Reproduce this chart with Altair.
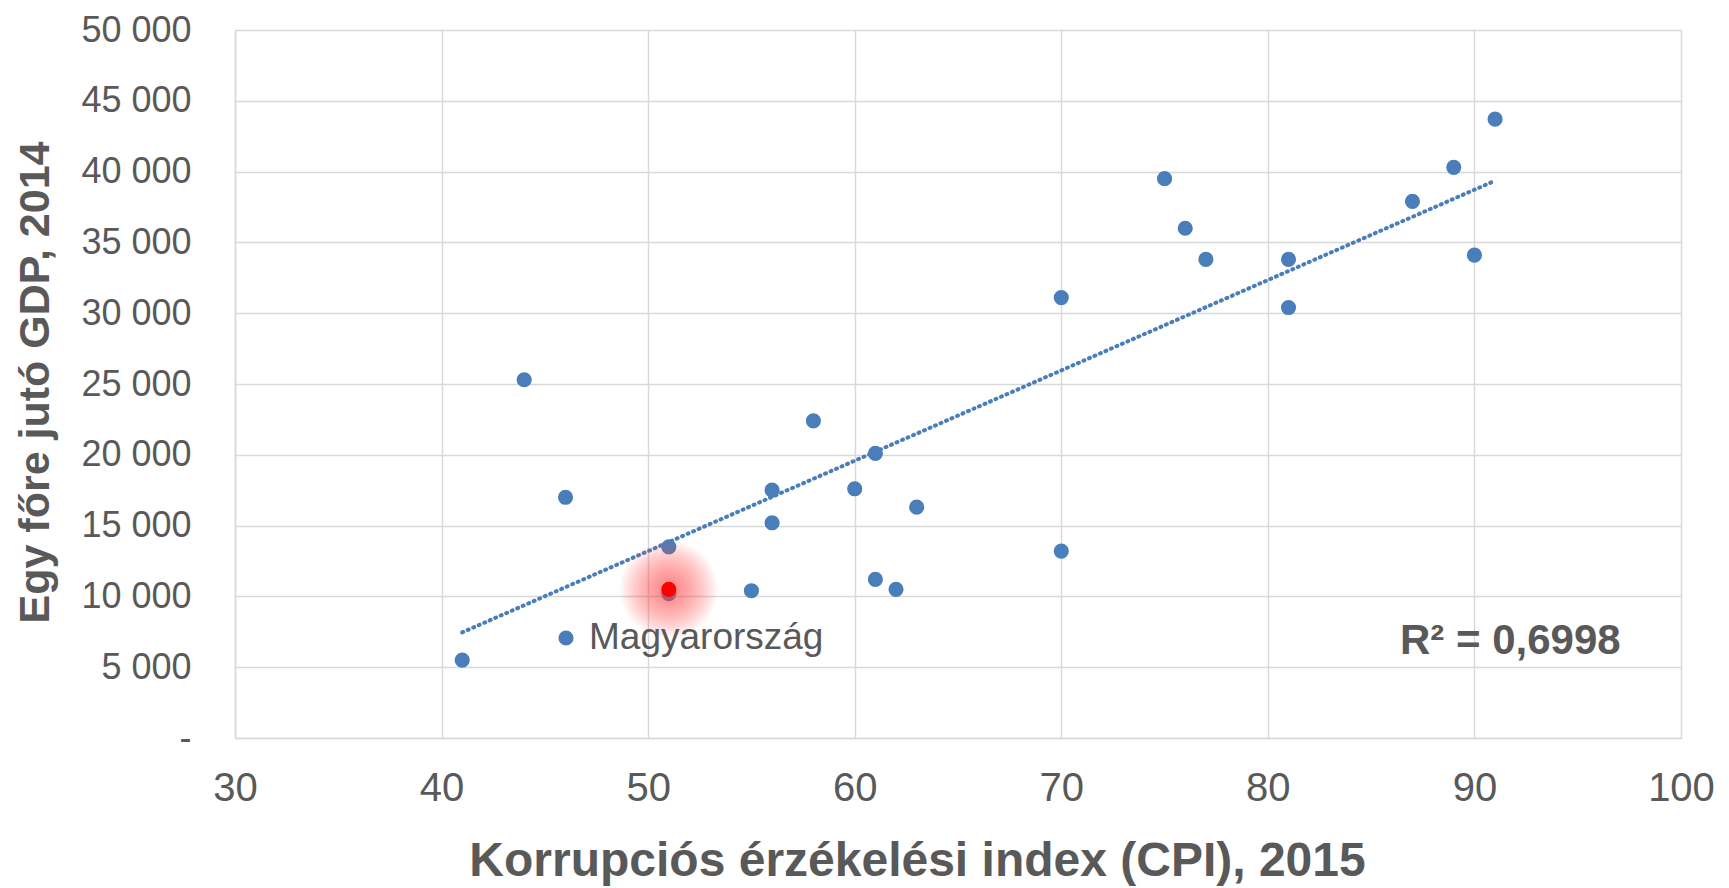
import altair as alt
import pandas as pd

# Data
cpi = [41, 44, 46, 51, 51, 55, 56, 56, 58, 60, 61, 61, 62, 63, 70, 70, 75, 76, 77, 81, 81, 87, 89, 90, 91]
gdp = [5500, 25300, 17000, 13500, 10200, 10400, 17500, 15200, 22400, 17600, 20100, 11200, 10500, 16300,
       31100, 13200, 39500, 36000, 33800, 33800, 30400, 37900, 40300, 34100, 43700]
hu_cpi = [51]
hu_gdp = [10500]
legend_label = "Magyarország"
r2_label = "R² = 0,6998"
x_title = "Korrupciós érzékelési index (CPI), 2015"
y_title = "Egy főre jutó GDP, 2014"

df = pd.DataFrame({"cpi": cpi, "gdp": gdp})
hu = pd.DataFrame({"cpi": hu_cpi, "gdp": hu_gdp})

BLUE = "#4A7EBB"
FONT = "Liberation Sans"
W, H = 1446, 708

xs = alt.Scale(domain=[30, 100], nice=False, zero=False)
ys = alt.Scale(domain=[0, 50000], nice=False)

x_axis = alt.Axis(values=list(range(30, 101, 10)), title=x_title, grid=True, gridColor="#d9d9d9",
                  gridWidth=1.5, domainColor="#d9d9d9", domainWidth=1.5, ticks=False,
                  labelFont=FONT, labelFontSize=40, labelColor="#595959", labelPadding=30,
                  labelFlush=False, labelOverlap=False,
                  titleFont=FONT, titleFontSize=48, titleFontWeight="bold", titleColor="#595959",
                  titleX=682, titleY=123, titleBaseline="middle", titleAnchor="middle")
y_axis = alt.Axis(values=list(range(0, 50001, 5000)), title=y_title, grid=True, gridColor="#d9d9d9",
                  gridWidth=1.5, domainColor="#d9d9d9", domainWidth=1.5, ticks=False,
                  labelFont=FONT, labelFontSize=36, labelColor="#595959", labelPadding=44,
                  labelFlush=False, labelOverlap=False,
                  labelExpr="datum.value == 0 ? '-' : replace(format(datum.value, ','), ',', ' ')",
                  titleFont=FONT, titleFontSize=43, titleFontWeight="bold", titleColor="#595959",
                  titleX=-200, titleY=352, titleBaseline="middle", titleAnchor="middle", titleAngle=-90)

base = alt.Chart(df)

trend = base.transform_regression("cpi", "gdp", extent=[41, 91]).mark_line(
    color=BLUE, strokeWidth=4, strokeDash=[1, 5], strokeCap="round"
).encode(x=alt.X("cpi:Q", scale=xs, axis=x_axis), y=alt.Y("gdp:Q", scale=ys, axis=y_axis))

points = base.mark_circle(color=BLUE, opacity=1, size=230).encode(
    x=alt.X("cpi:Q", scale=xs), y=alt.Y("gdp:Q", scale=ys))

glows = []
for d in range(96, 20, -6):
    glows.append(alt.Chart(hu).mark_circle(color="#ff4040", opacity=0.06, size=d * d).encode(
        x=alt.X("cpi:Q", scale=xs), y=alt.Y("gdp:Q", scale=ys)))

hu_pt = alt.Chart(hu).mark_circle(color="#ff0000", opacity=1, size=230).encode(
    x=alt.X("cpi:Q", scale=xs), y=alt.Y("gdp:Q", scale=ys))

leg_dot = alt.Chart(hu).mark_circle(color=BLUE, opacity=1, size=230).encode(
    x=alt.value(331), y=alt.value(608))
leg_txt = alt.Chart(hu).mark_text(text=legend_label, font=FONT, fontSize=37, color="#595959",
                                  align="left", baseline="middle").encode(
    x=alt.value(354), y=alt.value(608))
r2_txt = alt.Chart(hu).mark_text(text=r2_label, font=FONT, fontSize=42, fontWeight="bold",
                                 color="#595959", align="left", baseline="middle").encode(
    x=alt.value(1165), y=alt.value(611))

chart = alt.layer(trend, points, *glows, hu_pt, leg_dot, leg_txt, r2_txt).properties(
    width=W, height=H, autosize=alt.AutoSizeParams(type="none"),
    padding={"left": 227, "top": 22, "right": 36, "bottom": 150}
).configure_view(stroke="#d9d9d9", strokeWidth=1.5).configure(background="white")

chart.save("out.html", embed_options={"renderer": "svg", "actions": False})
